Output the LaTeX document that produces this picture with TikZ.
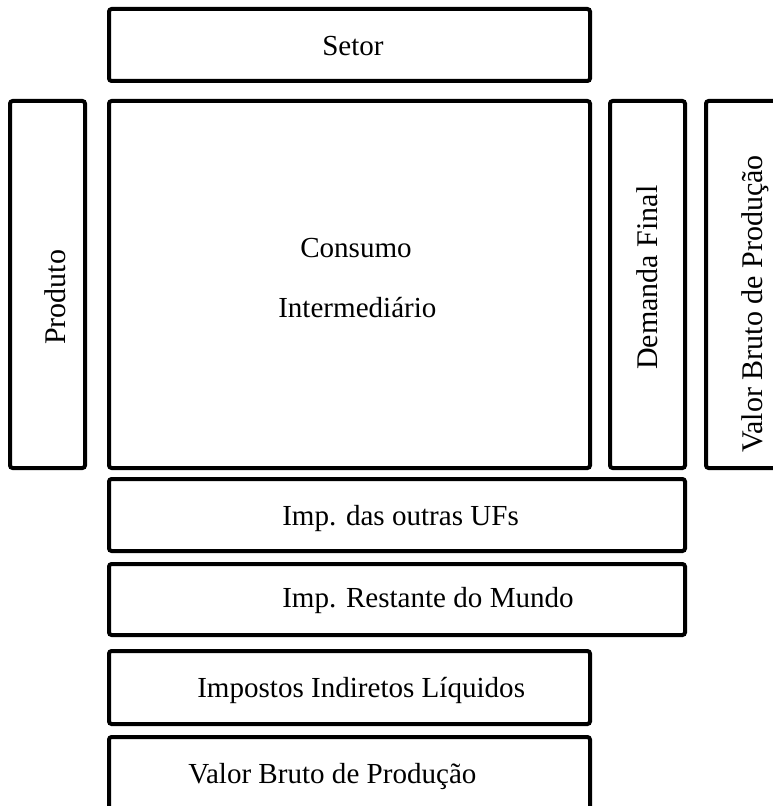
\documentclass[tikz,border=0pt]{standalone}
\usepackage{fontspec}
\setmainfont{Liberation Serif}

\tikzset{
  box/.style={draw, line width=3pt, rounded corners=2pt, inner sep=0pt, outer sep=0pt},
  lbl/.style={inner sep=0pt, anchor=base west, font=\fontsize{21.8pt}{26pt}\selectfont},
  vlbl/.style={lbl, rotate=90, font=\fontsize{22.5pt}{27pt}\selectfont}
}

\begin{document}
\begin{tikzpicture}[x=0.75pt, y=-0.75pt]

    \useasboundingbox (0,0) rectangle (772,806);

    % caixas
    \node[box, minimum width=360.75pt, minimum height=54pt]     (setor)   at (349.5,45)    {};
    \node[box, minimum width=56.25pt,  minimum height=275.25pt] (produto) at (47.5,284.5)  {};
    \node[box, minimum width=360.75pt, minimum height=275.25pt] (consumo) at (349.5,284.5) {};
    \node[box, minimum width=56.25pt,  minimum height=275.25pt] (demanda) at (647.5,284.5) {};
    \node[box, minimum width=56.25pt,  minimum height=275.25pt] (vbpcol)  at (743.5,284.5) {};
    \node[box, minimum width=432pt,    minimum height=54pt]     (impuf)   at (397,515)     {};
    \node[box, minimum width=432pt,    minimum height=53.25pt]  (impmundo) at (397,599.5) {};
    \node[box, minimum width=360.75pt, minimum height=54.75pt]  (impostos) at (349.5,687.5) {};
    \node[box, minimum width=360.75pt, minimum height=54.75pt]  (vbplin)  at (349.5,773.5) {};

    % textos
    \node[lbl] (tsetor)   at (322,56)  {Setor};
    \node[lbl] (tcons)    at (300,257) {Consumo};
    \node[lbl] (tinter)   at (278,317) {Intermediário};
    \node[lbl] (timpuf)   at (282,525) {Imp. das outras UFs};
    \node[lbl] (timpmun)  at (282,607) {Imp. Restante do Mundo};
    \node[lbl] (timpost)  at (197,697) {Impostos Indiretos Líquidos};
    \node[lbl] (tvbplin)  at (188,783) {Valor Bruto de Produção};
    \node[vlbl] (tprod)   at (65,345)  {Produto};
    \node[vlbl] (tdem)    at (657,370) {Demanda Final};
    \node[vlbl] (tvbpcol) at (762,453) {Valor Bruto de Produção};

  \end{tikzpicture}
\end{document}
